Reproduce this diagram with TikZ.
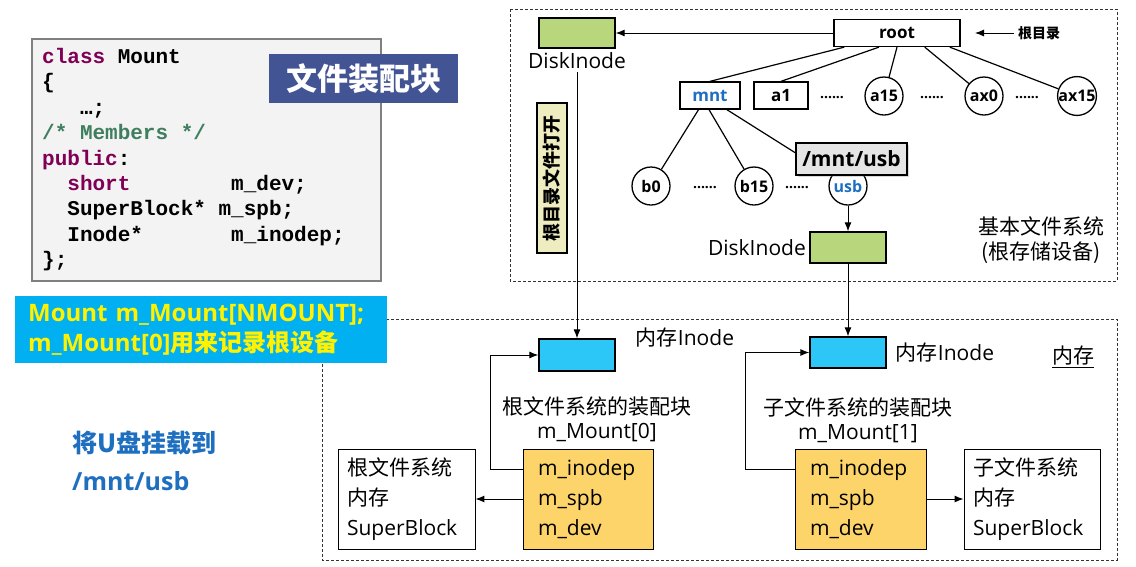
\documentclass[tikz,border=0pt]{standalone}
\usepackage{fontspec}
\setmainfont{Open Sans}
\newfontfamily\cjk{Noto Sans CJK SC}
\newfontfamily\codefont{Liberation Mono}
\usetikzlibrary{arrows.meta,positioning,shadows}

\definecolor{diskgreen}{RGB}{184,214,124}
\definecolor{inodeblue}{RGB}{44,198,247}
\definecolor{mountorange}{RGB}{252,212,106}
\definecolor{openkhaki}{RGB}{238,237,192}
\definecolor{bandcyan}{RGB}{0,176,240}
\definecolor{titleblue}{RGB}{67,84,148}
\definecolor{namesblue}{RGB}{31,111,192}
\definecolor{codegray}{RGB}{243,243,243}
\definecolor{kwpurple}{RGB}{127,0,85}
\definecolor{cmtgreen}{RGB}{63,127,95}

\tikzset{
  box/.style={draw, line width=1.3pt, inner sep=0pt},
  diskbox/.style={box, fill=diskgreen, minimum width=76pt, minimum height=30pt},
  inodebox/.style={box, fill=inodeblue, minimum width=76pt, minimum height=31pt},
  dirbox/.style={box, fill=white, minimum height=27pt, font=\fontsize{17}{20}\selectfont\bfseries},
  filenode/.style={circle, draw, line width=1.3pt, fill=white, inner sep=0pt, minimum size=38pt, font=\fontsize{16}{18}\selectfont\bfseries},
  dotsnode/.style={font=\fontsize{14}{16}\selectfont\bfseries},
  block/.style={draw, line width=0.9pt, minimum height=100pt, align=left, font=\fontsize{21}{30}\selectfont},
  codeline/.style={anchor=base west, inner sep=0pt, font=\fontsize{21}{25}\codefont\bfseries},
  frame/.style={draw=black!80, line width=0.8pt, dash pattern=on 3pt off 2pt},
  treeline/.style={line width=1.2pt},
  link/.style={->, line width=1pt},
}

\begin{document}
\begin{tikzpicture}[x=1pt,y=-1pt,>={Latex[length=9pt,width=7pt]},
  every node/.style={font=\fontsize{21}{24}\selectfont}]
\useasboundingbox (0,0) rectangle (1136,566);

% dashed frames
\draw[frame] (510,9) rectangle (1117,281);
\draw[frame] (322,319) rectangle (1117,560);

% the Mount class
\node[draw=gray, line width=1.2pt, fill=codegray, minimum width=349pt, minimum height=242pt, inner sep=0pt] (codebox) at (206.5,160) {};
\node[codeline] (cl1) at (42,63.5) {\textcolor{kwpurple}{class} Mount};
\node[codeline] (cl2) at (42,88.9) {\{};
\node[codeline] (cl3) at (42,114.3) {~~~…;};
\node[codeline] (cl4) at (42,139.7) {\textcolor{cmtgreen}{/* Members */}};
\node[codeline] (cl5) at (42,165.1) {\textcolor{kwpurple}{public}:};
\node[codeline] (cl6) at (42,190.5) {~~\textcolor{kwpurple}{short}~~~~~~~~m\_dev;};
\node[codeline] (cl7) at (42,215.9) {~~SuperBlock*~m\_spb;};
\node[codeline] (cl8) at (42,241.3) {~~Inode*~~~~~~~m\_inodep;};
\node[codeline] (cl9) at (42,266.7) {\};};

\node[fill=titleblue, text=white, minimum width=189pt, minimum height=49pt, font=\fontsize{31}{34}\cjk\bfseries] (title) at (363.5,78.5) {文件装配块};

\node[fill=bandcyan, text=yellow, anchor=north west, text width=346pt, inner xsep=13pt, minimum height=67pt, align=left, font=\fontsize{24}{30}\selectfont\bfseries] (band) at (15,296) {Mount m\_Mount[NMOUNT];\\m\_Mount[0]{\cjk 用来记录根设备}};

\node[anchor=west, inner sep=0pt, align=left, text=namesblue, font=\fontsize{25}{38}\selectfont\bfseries] (mountto) at (72,461) {{\cjk 将U盘挂载到}\\/mnt/usb};

% root file system tree
\node[dirbox, minimum width=126pt] (root) at (897,33) {root};
\node[diskbox] (dk1) at (577,33) {};
\node[below=0pt of dk1] (dk1lbl) {DiskInode};
\node[font=\fontsize{14}{16}\cjk\bfseries] (rootlbl) at (1039,33) {根目录};
\coordinate (rootptr) at (975,33);
\draw[link] (root) -- (dk1);
\draw[->, line width=0.9pt] (rootlbl) -- (rootptr);

\node[dirbox, minimum width=60pt, text=namesblue] (mnt) at (710,95.5) {mnt};
\node[dirbox, minimum width=54pt] (a1) at (781,95.5) {a1};
\node[dotsnode] (dotsa) at (832,98) {......};
\node[filenode] (a15) at (884,96) {a15};
\node[dotsnode] (dotsb) at (932,98) {......};
\node[filenode] (ax0) at (984,96) {ax0};
\node[dotsnode] (dotsc) at (1027,98) {......};
\node[filenode] (ax15) at (1077,96) {ax15};
\draw[treeline] (root.195) -- (mnt.north);
\draw[treeline] (root.218) -- (a1.north);
\draw[treeline] (root.270) -- (a15);
\draw[treeline] (root.333) -- (ax0);
\draw[treeline] (root.345) -- (ax15);

\node[filenode] (b0) at (651,186) {b0};
\node[dotsnode] (dotsd) at (705,188) {......};
\node[filenode] (b15) at (754,186) {b15};
\node[dotsnode] (dotse) at (797,188) {......};
\node[filenode, text=namesblue] (usb) at (848,186) {usb};
\draw[treeline] (mnt.231) -- (b0);
\draw[treeline] (mnt.266) -- (b15);
\draw[treeline] (mnt.320) -- (usb);
\node[draw, line width=1.2pt, fill=black!10, drop shadow={opacity=0.3, shadow xshift=2pt, shadow yshift=-2pt}, minimum width=111pt, minimum height=32pt, inner sep=0pt, font=\fontsize{21}{24}\selectfont\bfseries] (mntusb) at (851.5,159) {/mnt/usb};

\node[diskbox, minimum height=31pt] (dk2) at (848,247.5) {};
\node[left=0pt of dk2] (dk2lbl) {DiskInode};
\draw[link] (usb) -- (dk2);

\node[box, fill=openkhaki, rotate=90, minimum width=150pt, minimum height=30pt, font=\fontsize{18}{20}\cjk\bfseries] (rootopen) at (552,178) {根目录文件打开};
\node[font=\fontsize{21}{25}\cjk, align=center] (basefs) at (1041,240) {基本文件系统\\(根存储设备)};

% memory
\node[inodebox, minimum height=32pt] (in1) at (577,355) {};
\node[inodebox] (in2) at (848,352.5) {};
\node (in1lbl) at (685,338) {{\cjk 内存}Inode};
\node (in2lbl) at (945,353) {{\cjk 内存}Inode};
\node[font=\fontsize{21}{24}\cjk] (memlbl) at (1073,357) {\underline{内存}};
\draw[link] (dk1lbl) -- (in1);
\draw[link] (dk2) -- (in2);

\node[block, fill=mountorange, text width=100pt, inner xsep=15pt] (mount0) at (588,499) {m\_inodep\\m\_spb\\m\_dev};
\node[block, fill=mountorange, text width=101pt, inner xsep=15pt] (mount1) at (860.5,499) {m\_inodep\\m\_spb\\m\_dev};
\node[block, fill=white, text width=119pt, inner xsep=9pt] (sb0) at (406.5,499) {{\cjk 根文件系统}\\{\cjk 内存}\\SuperBlock};
\node[block, fill=white, text width=118pt, inner xsep=9pt] (sb1) at (1032,499) {{\cjk 子文件系统}\\{\cjk 内存}\\SuperBlock};
\node[align=center] (mount0lbl) at (597,419) {{\cjk 根文件系统的装配块}\\m\_Mount[0]};
\node[align=center] (mount1lbl) at (858,420) {{\cjk 子文件系统的装配块}\\m\_Mount[1]};

\draw[link] (mount0.west) -- (sb0.east);
\draw[link] (mount1.east) -- (sb1.west);
\draw[link] ([yshift=30pt]mount0.west) -- ++(-32,0) |- (in1.west);
\draw[link] ([yshift=30pt]mount1.west) -- ++(-49,0) |- (in2.west);
\end{tikzpicture}
\end{document}
